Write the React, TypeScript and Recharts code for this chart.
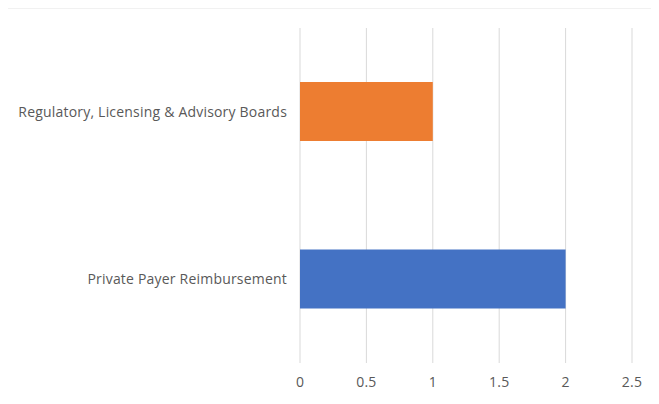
import React from "react";
import { BarChart, Bar, XAxis, YAxis, CartesianGrid, Cell, Customized } from "recharts";

const categories = ["Regulatory, Licensing & Advisory Boards", "Private Payer Reimbursement"];
const values = [1, 2];
const colors = ["#ED7D31", "#4472C4"];
const xTicks = [0, 0.5, 1, 1.5, 2, 2.5];

const data = categories.map((name, i) => ({ name, value: values[i] }));

const font = "'Open Sans', 'Noto Sans', sans-serif";

const Frame = () => (
  <path d="M6,404 L6,7.5 L659,7.5" fill="none" stroke="#c8c8c8" strokeWidth={1.5} />
);

export default function App() {
  return (
    <div style={{ position: "relative", width: 659, height: 404, margin: -8, overflow: "hidden", background: "#fff" }}>
      <BarChart
        width={659}
        height={404}
        data={data}
        layout="vertical"
        margin={{ top: 28, right: 27, bottom: 11, left: 0 }}
      >
        <CartesianGrid horizontal={false} stroke="#d9d9d9" />
        <XAxis
          type="number"
          domain={[0, 2.5]}
          ticks={xTicks}
          axisLine={false}
          tickLine={false}
          height={30}
          tickMargin={8}
          tick={{ fill: "#595959", fontSize: 14, fontFamily: font, letterSpacing: 0.2 }}
        />
        <YAxis
          type="category"
          dataKey="name"
          width={300}
          axisLine={false}
          tickLine={false}
          tickMargin={7}
          tick={{ fill: "#595959", fontSize: 14, fontFamily: font, letterSpacing: 0.2 }}
        />
        <Bar dataKey="value" barSize={59} isAnimationActive={false}>
          {data.map((d, i) => (
            <Cell key={d.name} fill={colors[i]} />
          ))}
        </Bar>
        <Customized component={Frame} />
      </BarChart>
    </div>
  );
}
